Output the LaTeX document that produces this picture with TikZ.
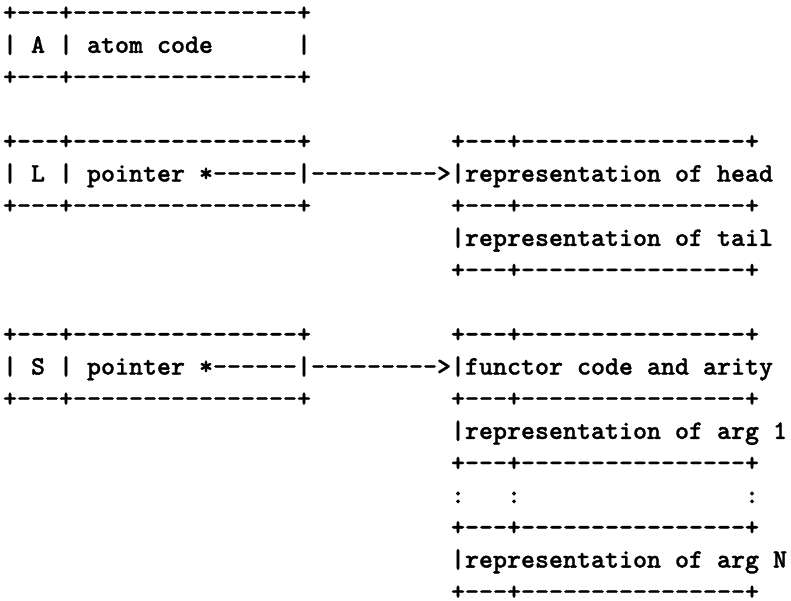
\documentclass[tikz,border=0pt]{standalone}
\usepackage{fontspec}
\usepackage{tikz}
\newfontfamily\asctt{lmmonolt10-bold.otf}[FakeBold=1.2]
\newcommand{\rowy}[1]{\fpeval{-(20.7+(#1-1)*32.17)}}
\begin{document}
\begin{tikzpicture}[x=1pt,y=1pt,
  asc/.style={inner sep=0pt, outer sep=0pt, anchor=base west, text=black,
    font=\asctt\fontsize{26.667pt}{32pt}\selectfont}]
\useasboundingbox (0,0) rectangle (791,-601);
\def\cx#1{\fpeval{3+14*#1}}
% atom
\node[asc] (a1) at (\cx{0},\rowy{1}) {+---+----------------+};
\node[asc] (a2) at (\cx{0},\rowy{2}) {| A | atom code};
\node[asc] (a2e) at (\cx{21},\rowy{2}) {|};
\node[asc] (a3) at (\cx{0},\rowy{3}) {+---+----------------+};
% list
\node[asc] (l1) at (\cx{0},\rowy{5}) {+---+----------------+};
\node[asc] (h1) at (\cx{32},\rowy{5}) {+---+----------------+};
\node[asc] (l2) at (\cx{0},\rowy{6}) {| L | pointer *------|--------->|representation of head};
\node[asc] (l3) at (\cx{0},\rowy{7}) {+---+----------------+};
\node[asc] (h3) at (\cx{32},\rowy{7}) {+---+----------------+};
\node[asc] (h4) at (\cx{32},\rowy{8}) {|representation of tail};
\node[asc] (h5) at (\cx{32},\rowy{9}) {+---+----------------+};
% structure
\node[asc] (s1) at (\cx{0},\rowy{11}) {+---+----------------+};
\node[asc] (f1) at (\cx{32},\rowy{11}) {+---+----------------+};
\node[asc] (s2) at (\cx{0},\rowy{12}) {| S | pointer *------|--------->|functor code and arity};
\node[asc] (s3) at (\cx{0},\rowy{13}) {+---+----------------+};
\node[asc] (f3) at (\cx{32},\rowy{13}) {+---+----------------+};
\node[asc] (f4) at (\cx{32},\rowy{14}) {|representation of arg 1};
\node[asc] (f5) at (\cx{32},\rowy{15}) {+---+----------------+};
\node[asc] (f6a) at (\cx{32},\rowy{16}) {:};
\node[asc] (f6b) at (\cx{36},\rowy{16}) {:};
\node[asc] (f6c) at (\cx{53},\rowy{16}) {:};
\node[asc] (f7) at (\cx{32},\rowy{17}) {+---+----------------+};
\node[asc] (f8) at (\cx{32},\rowy{18}) {|representation of arg N};
\node[asc, text depth=0pt] (f9) at (\cx{32},\rowy{19}) {+---+----------------+};
\end{tikzpicture}
\end{document}
